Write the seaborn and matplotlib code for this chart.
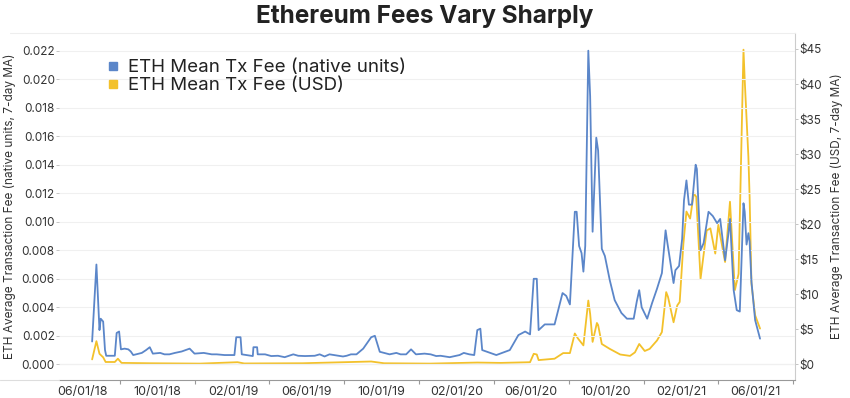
import numpy as np
import pandas as pd
import matplotlib
matplotlib.use("Agg")
import matplotlib.pyplot as plt
import matplotlib.dates as mdates
from matplotlib.lines import Line2D
import seaborn as sns

# ETH mean tx fee, native units (7-day MA)
eth_dates = [
    "2018-06-16", "2018-06-23", "2018-06-28", "2018-06-30", "2018-07-04", "2018-07-07",
    "2018-07-09", "2018-07-23", "2018-07-26", "2018-07-30", "2018-08-02", "2018-08-08",
    "2018-08-14", "2018-08-18", "2018-08-22", "2018-09-05", "2018-09-12", "2018-09-18",
    "2018-09-23", "2018-10-05", "2018-10-12", "2018-10-20", "2018-10-29", "2018-11-09",
    "2018-11-22", "2018-11-30", "2018-12-15", "2018-12-28", "2019-01-05", "2019-01-18",
    "2019-02-03", "2019-02-06", "2019-02-13", "2019-02-15", "2019-03-05", "2019-03-06",
    "2019-03-12", "2019-03-13", "2019-03-25", "2019-04-04", "2019-04-15", "2019-04-26",
    "2019-05-10", "2019-05-18", "2019-05-29", "2019-06-14", "2019-06-22", "2019-06-30",
    "2019-07-08", "2019-07-30", "2019-08-05", "2019-08-12", "2019-08-21", "2019-09-01",
    "2019-09-14", "2019-09-20", "2019-09-28", "2019-10-14", "2019-10-25", "2019-11-01",
    "2019-11-10", "2019-11-18", "2019-11-26", "2019-12-10", "2019-12-20", "2019-12-29",
    "2020-01-05", "2020-01-20", "2020-02-05", "2020-02-12", "2020-02-21", "2020-02-29",
    "2020-03-05", "2020-03-10", "2020-03-13", "2020-04-05", "2020-04-27", "2020-05-11",
    "2020-05-22", "2020-05-30", "2020-06-05", "2020-06-10", "2020-06-13", "2020-06-23",
    "2020-07-09", "2020-07-22", "2020-07-28", "2020-08-03", "2020-08-11", "2020-08-14",
    "2020-08-18", "2020-08-22", "2020-08-25", "2020-08-28", "2020-09-02", "2020-09-05",
    "2020-09-09", "2020-09-15", "2020-09-18", "2020-09-24", "2020-09-29", "2020-10-07",
    "2020-10-15", "2020-10-26", "2020-11-04", "2020-11-15", "2020-11-20", "2020-11-24",
    "2020-11-28", "2020-12-07", "2020-12-15", "2020-12-23", "2020-12-31", "2021-01-06",
    "2021-01-09", "2021-01-14", "2021-01-19", "2021-01-22", "2021-01-28", "2021-02-02",
    "2021-02-05", "2021-02-09", "2021-02-13", "2021-02-18", "2021-02-24", "2021-02-26",
    "2021-03-04", "2021-03-09", "2021-03-17", "2021-03-24", "2021-03-31", "2021-04-05",
    "2021-04-13", "2021-04-18", "2021-04-21", "2021-04-27", "2021-05-02", "2021-05-07",
    "2021-05-13", "2021-05-15", "2021-05-18", "2021-05-21", "2021-05-23", "2021-05-26",
    "2021-06-01", "2021-06-09",
]
eth_fee = [
    0.0016, 0.0070, 0.0024, 0.0032, 0.0030, 0.0010,
    0.0006, 0.0006, 0.0022, 0.0023, 0.00105, 0.0011,
    0.00105, 0.0009, 0.00065, 0.0008, 0.0010, 0.0012,
    0.00075, 0.0008, 0.0007, 0.0007, 0.0008, 0.0009,
    0.0011, 0.00075, 0.0008, 0.0007, 0.0007, 0.00065,
    0.00065, 0.0019, 0.0019, 0.0007, 0.00058, 0.0012,
    0.0012, 0.0007, 0.0007, 0.00058, 0.0006, 0.0005,
    0.0007, 0.0006, 0.00058, 0.0006, 0.0007, 0.00055,
    0.0007, 0.00055, 0.0006, 0.0007, 0.0007, 0.0011,
    0.0019, 0.0020, 0.00088, 0.0007, 0.0008, 0.0007,
    0.0007, 0.00105, 0.0007, 0.00075, 0.0007, 0.00058,
    0.0006, 0.0005, 0.00065, 0.0008, 0.0007, 0.00065,
    0.0024, 0.0025, 0.0010, 0.00065, 0.0010, 0.00205,
    0.0023, 0.0021, 0.0060, 0.0060, 0.0024, 0.0028,
    0.0028, 0.0050, 0.0048, 0.0042, 0.0107, 0.0107,
    0.0083, 0.0078, 0.0065, 0.0083, 0.0220, 0.0188,
    0.0093, 0.0159, 0.0150, 0.0081, 0.0076, 0.0059,
    0.0045, 0.0036, 0.0032, 0.0032, 0.0044, 0.0052,
    0.0040, 0.0032, 0.0043, 0.0053, 0.0064, 0.0094,
    0.0085, 0.0071, 0.0057, 0.0066, 0.0069, 0.0088,
    0.0115, 0.0129, 0.0112, 0.0112, 0.0140, 0.0137,
    0.0080, 0.0085, 0.0107, 0.0104, 0.0099, 0.0102,
    0.0073, 0.0090, 0.0102, 0.0052, 0.0038, 0.0037,
    0.0113, 0.0107, 0.0084, 0.0092, 0.0086, 0.0058,
    0.0031, 0.0018,
]

# ETH mean tx fee in USD (7-day MA)
usd_dates = [
    "2018-06-16", "2018-06-23", "2018-06-28", "2018-07-04", "2018-07-08", "2018-07-23",
    "2018-07-28", "2018-08-03", "2018-09-18", "2018-12-09", "2019-02-08", "2019-02-19",
    "2019-05-25", "2019-09-14", "2019-10-05", "2019-12-19", "2020-03-05", "2020-04-12",
    "2020-05-30", "2020-06-05", "2020-06-10", "2020-06-13", "2020-07-09", "2020-07-23",
    "2020-08-03", "2020-08-11", "2020-08-16", "2020-08-25", "2020-09-02", "2020-09-05",
    "2020-09-09", "2020-09-16", "2020-09-18", "2020-09-24", "2020-10-07", "2020-10-24",
    "2020-11-09", "2020-11-17", "2020-11-24", "2020-12-03", "2020-12-11", "2020-12-23",
    "2020-12-31", "2021-01-07", "2021-01-10", "2021-01-19", "2021-01-25", "2021-01-29",
    "2021-02-04", "2021-02-09", "2021-02-15", "2021-02-21", "2021-02-25", "2021-03-04",
    "2021-03-14", "2021-03-20", "2021-03-28", "2021-04-02", "2021-04-10", "2021-04-13",
    "2021-04-21", "2021-04-29", "2021-05-05", "2021-05-13", "2021-05-15", "2021-05-21",
    "2021-05-23", "2021-05-26", "2021-06-01", "2021-06-09",
]
usd_fee = [
    0.7, 3.3, 1.5, 1.0, 0.33, 0.33,
    0.8, 0.2, 0.15, 0.1, 0.3, 0.12,
    0.15, 0.4, 0.15, 0.1, 0.25, 0.2,
    0.3, 1.5, 1.4, 0.6, 0.8, 1.6,
    1.6, 4.4, 3.7, 2.7, 9.1, 7.2,
    3.2, 5.9, 5.6, 2.9, 2.2, 1.4,
    1.2, 1.7, 2.9, 1.9, 2.2, 3.4,
    4.6, 10.3, 9.6, 6.0, 8.4, 8.9,
    17.2, 21.8, 20.8, 24.4, 23.9, 12.2,
    19.1, 19.4, 15.8, 19.9, 16.0, 14.6,
    23.2, 10.6, 12.9, 44.9, 40.6, 29.6,
    23.9, 11.5, 7.0, 5.1,
]

eth_df = pd.DataFrame({"date": pd.to_datetime(eth_dates), "fee": eth_fee})
usd_df = pd.DataFrame({"date": pd.to_datetime(usd_dates), "fee": usd_fee})

blue = "#5b86c9"
gold = "#f3c12b"
text_col = "#333333"

sns.set_theme(style="white")
plt.rcParams["font.family"] = ["Inter", "DejaVu Sans"]

fig = plt.figure(figsize=(8.5, 3.98), dpi=100)
ax = fig.add_axes([59 / 850, 18 / 398, 736 / 850, 347 / 398])
ax2 = ax.twinx()

sns.lineplot(data=eth_df, x="date", y="fee", ax=ax, color=blue, linewidth=1.3)
sns.lineplot(data=usd_df, x="date", y="fee", ax=ax2, color=gold, linewidth=1.3)
ax.set_zorder(ax2.get_zorder() + 1)
ax.patch.set_visible(False)

ax.set_xlim(pd.Timestamp("2018-04-23"), pd.Timestamp("2021-08-05"))
ax.set_ylim(-0.0011, 0.02324)
ax2.set_ylim(-2.24, 47.28)

ax.set_yticks(np.arange(0, 0.0221, 0.002))
ax.yaxis.set_major_formatter(matplotlib.ticker.FormatStrFormatter("%.3f"))
ax2.set_yticks(np.arange(0, 46, 5))
ax2.yaxis.set_major_formatter(matplotlib.ticker.FuncFormatter(lambda v, p: f"${v:.0f}"))

ax.xaxis.set_major_locator(mdates.MonthLocator(bymonth=[2, 6, 10]))
ax.xaxis.set_major_formatter(mdates.DateFormatter("%m/%d/%y"))
ax.xaxis.set_minor_locator(mdates.MonthLocator(bymonth=[4, 8, 12]))

ax.grid(axis="y", color="#f0f0f0", linewidth=0.8)
ax.axhline(0, color="#dddddd", linewidth=0.8, zorder=0)

for a in (ax, ax2):
    for s in a.spines.values():
        s.set_visible(False)
ax.spines["bottom"].set_visible(True)
ax.spines["bottom"].set_color("#999999")
ax.spines["bottom"].set_linewidth(0.8)
ax2.spines["right"].set_visible(True)
ax2.spines["right"].set_color("#cccccc")
ax2.spines["right"].set_linewidth(0.8)

ax.tick_params(axis="x", which="major", length=0, pad=4, labelsize=9, labelcolor=text_col)
ax.tick_params(axis="x", which="minor", length=3, width=0.8, color="#999999", bottom=True)
ax.tick_params(axis="y", length=2, width=0.6, color="#bbbbbb", pad=1, labelsize=8.5, labelcolor=text_col, left=True)
ax2.tick_params(axis="y", length=2, width=0.6, color="#bbbbbb", pad=1, labelsize=8.5, labelcolor=text_col, right=True)

ax.set_xlabel("")
ax.set_ylabel("ETH Average Transaction Fee (native units, 7-day MA)", fontsize=8.5, color=text_col, labelpad=4)
ax2.set_ylabel("ETH Average Transaction Fee (USD, 7-day MA)", fontsize=8.5, color=text_col, labelpad=6)

# thin frame lines seen at the top and bottom of the pane
fig.add_artist(Line2D([10 / 850, 795 / 850], [1 - 33 / 398] * 2, color="#eeeeee", lw=0.8))
fig.add_artist(Line2D([0, 59 / 850], [18 / 398] * 2, color="#dddddd", lw=0.8))

handles = [
    Line2D([], [], marker="s", linestyle="", color=blue, markersize=6),
    Line2D([], [], marker="s", linestyle="", color=gold, markersize=6),
]
fig.legend(handles, ["ETH Mean Tx Fee (native units)", "ETH Mean Tx Fee (USD)"],
           loc="upper left", bbox_to_anchor=(105 / 850, 1 - 59 / 398), frameon=False,
           fontsize=13.5, handlelength=0.8, handletextpad=0.4, labelspacing=0.05,
           borderaxespad=0, borderpad=0, labelcolor="#222222")

fig.text(0.5, 1 - 16 / 398, "Ethereum Fees Vary Sharply", ha="center", va="center",
         fontsize=17.5, fontweight="bold", color="#222222")

fig.savefig("out.png", dpi=100)
